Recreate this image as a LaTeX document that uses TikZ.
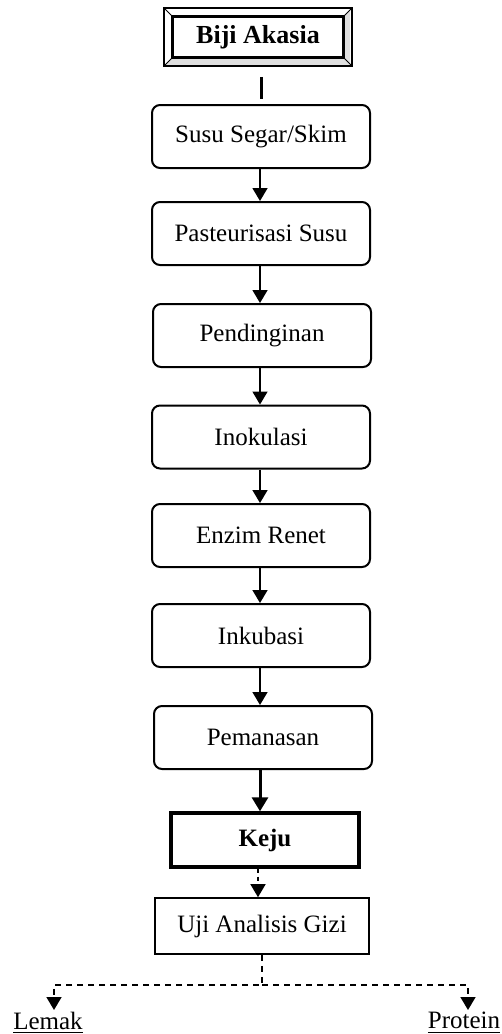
\documentclass[tikz,border=0pt]{standalone}
\usepackage{fontspec}
\setmainfont{Liberation Serif}
\usetikzlibrary{arrows.meta,calc}
\tikzset{
  prosesbox/.style={draw, line width=1pt, rounded corners=4pt, minimum width=109pt, minimum height=31.5pt, font=\fontsize{12.5}{15}\selectfont},
  alur/.style={line width=0.75pt, -{Triangle[width=7.5pt,length=6.5pt]}},
  cabang/.style={line width=0.75pt, dash pattern=on 3pt off 2.5pt, -{Triangle[width=7.5pt,length=6.5pt]}},
  hasil/.style={inner sep=0pt, font=\fontsize{12.5}{15}\selectfont}
}
\begin{document}
\begin{tikzpicture}[x=0.5pt,y=-0.5pt]
    \useasboundingbox (0,0) rectangle (502,1034);
    % bahan awal (kotak bevel)
    \node[draw, line width=0.8pt, minimum width=85pt, minimum height=20pt, font=\fontsize{13}{15}\selectfont\bfseries] (biji) at (258,37) {Biji Akasia};
    \fill[gray!25] (biji.south west) -- ++(-8,8) -- ++(186,0) -- ++(0,-55) -- (biji.north east) -- (biji.south east) -- cycle;
    \draw[line width=0.8pt] ([shift={(-4pt,4pt)}]biji.north west) rectangle ([shift={(4pt,-4pt)}]biji.south east);
    \draw[line width=0.5pt] (biji.north west) -- ++(-8,-8);
    \draw[line width=0.5pt] (biji.north east) -- ++(8,-8);
    \draw[line width=0.5pt] (biji.south west) -- ++(-8,8);
    \draw[line width=0.5pt] (biji.south east) -- ++(8,8);
    \draw[line width=0.8pt] (biji.north west) rectangle (biji.south east);
    % tahapan proses
    \node[prosesbox] (susu) at (261,136.5) {Susu Segar/Skim};
    \node[prosesbox] (past) at (261,233.5) {Pasteurisasi Susu};
    \node[prosesbox] (pend) at (262,335.5) {Pendinginan};
    \node[prosesbox] (inok) at (261,437) {Inokulasi};
    \node[prosesbox] (enzim) at (261,535.5) {Enzim Renet};
    \node[prosesbox] (inkub) at (261,635.5) {Inkubasi};
    \node[prosesbox] (peman) at (263,737.5) {Pemanasan};
    \node[draw, line width=1.7pt, minimum width=94pt, minimum height=27pt, font=\fontsize{12.5}{15}\selectfont\bfseries] (keju) at (265,840) {Keju};
    \node[draw, line width=0.8pt, minimum width=107pt, minimum height=28pt, font=\fontsize{12.5}{15}\selectfont] (uji) at (262,926) {Uji Analisis Gizi};
    \node[hasil, anchor=north] (lemak) at (48,1012) {\underline{Lemak}};
    \node[hasil, anchor=north] (protein) at (464,1012) {\underline{Protein}};
    % penghubung
    \draw[line width=1.5pt, shorten <=9.5pt, shorten >=2.5pt] (biji.south -| susu) -- (susu.north);
    \foreach \a/\b in {susu/past, past/pend, pend/inok, inok/enzim, enzim/inkub, inkub/peman}
        \draw[alur] (\a.south -| 260,0) -- (\b.north -| 260,0);
    \draw[line width=1.5pt, -{Triangle[width=8pt,length=7pt]}] (peman.south -| 260,0) -- (keju.north -| 260,0);
    \draw[line width=0.75pt, dash pattern=on 2pt off 2pt, -{Triangle[width=7.5pt,length=6.5pt]}] (keju.south -| 258,0) -- (uji.north -| 258,0);
    \coordinate (fork) at (262,985);
    \draw[cabang] (uji.south -| fork) -- (fork) -| ([xshift=3pt,yshift=1pt]lemak.north);
    \draw[cabang] (fork) -| ([xshift=2pt,yshift=1pt]protein.north);
\end{tikzpicture}
\end{document}
